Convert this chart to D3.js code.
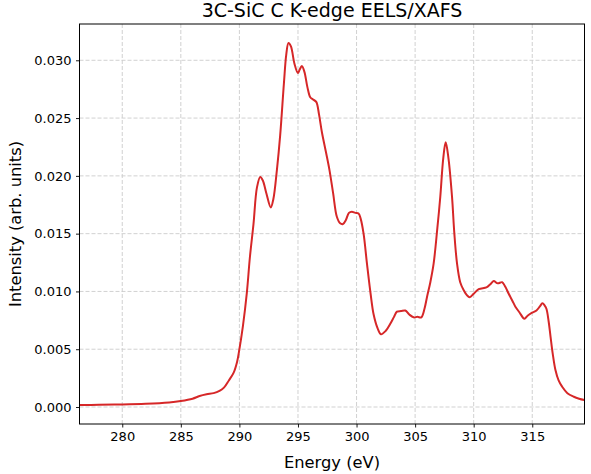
<!DOCTYPE html>
<html>
<head>
<meta charset="utf-8">
<script src="https://cdn.jsdelivr.net/npm/d3@7"></script>
<style>
  html, body { margin: 0; padding: 0; background: #fff; }
  svg text { font-family: "DejaVu Sans", sans-serif; fill: #000; }
</style>
</head>
<body>
<div id="chart"></div>
<script>
// === DATA ===
const energy = [
    276.3, 278, 280, 282, 284, 285, 286, 286.6, 287.2, 287.8,
    288.3, 288.7, 289.1, 289.5, 289.8, 290.0, 290.3, 290.63, 290.9, 291.2,
    291.5, 291.78, 292.0, 292.3, 292.68, 292.9, 293.2, 293.48, 293.8, 294.0,
    294.19, 294.4, 294.7, 294.99, 295.15, 295.33, 295.55, 295.8, 296.05, 296.3,
    296.56, 296.8, 297.04, 297.4, 297.69, 298.0, 298.32, 298.6, 298.84, 299.1,
    299.35, 299.6, 299.9, 300.17, 300.35, 300.6, 300.89, 301.2, 301.46, 301.8,
    302.08, 302.5, 302.88, 303.2, 303.45, 303.8, 304.16, 304.5, 304.87, 305.2,
    305.53, 305.8, 306.02, 306.3, 306.58, 306.9, 307.15, 307.4, 307.61, 307.85,
    308.15, 308.35, 308.58, 308.85, 309.15, 309.4, 309.66, 310.0, 310.43, 311.09,
    311.4, 311.71, 312.05, 312.43, 312.7, 312.99, 313.3, 313.56, 313.9, 314.33,
    314.6, 314.99, 315.36, 315.65, 315.87, 316.05, 316.21, 316.4, 316.56, 316.75,
    316.98, 317.25, 317.55, 318.0, 318.55, 319.0, 319.46
];
const intensity = [
    0.00017, 0.00019, 0.00022, 0.00028, 0.00040, 0.00052, 0.00072, 0.00095, 0.00110, 0.00120,
    0.00140, 0.00170, 0.00230, 0.00295, 0.00390, 0.00500, 0.00700, 0.00983, 0.0130, 0.0158,
    0.0190, 0.0199, 0.0196, 0.0185, 0.01727, 0.0180, 0.0205, 0.0235, 0.0280, 0.0305,
    0.0315, 0.0312, 0.0297, 0.0289, 0.0292, 0.0295, 0.0290, 0.0277, 0.0268, 0.0266,
    0.0264, 0.0253, 0.0238, 0.0220, 0.0205, 0.0185, 0.01646, 0.0159, 0.01583, 0.0162,
    0.0168, 0.0169, 0.0168, 0.01675, 0.0163, 0.0150, 0.0124, 0.0098, 0.0080, 0.0068,
    0.0063, 0.0066, 0.0072, 0.0078, 0.00825, 0.0083, 0.00835, 0.0080, 0.00776, 0.0078,
    0.00776, 0.0085, 0.00954, 0.0108, 0.0124, 0.0155, 0.0182, 0.0215, 0.0229, 0.0215,
    0.0182, 0.0150, 0.0124, 0.0108, 0.0101, 0.0097, 0.0095, 0.0098, 0.0102, 0.01035,
    0.0106, 0.0109, 0.0107, 0.0108, 0.0104, 0.0098, 0.0092, 0.00868, 0.0082, 0.00764,
    0.0079, 0.00816, 0.00835, 0.0087, 0.00897, 0.0088, 0.0085, 0.0074, 0.0061, 0.0046,
    0.0032, 0.0023, 0.00176, 0.0012, 0.00089, 0.00072, 0.0006
];
const xTicks = [280, 285, 290, 295, 300, 305, 310, 315];
const yTicks = [0.000, 0.005, 0.010, 0.015, 0.020, 0.025, 0.030];
const xDomain = [276.35, 319.46];
const yDomain = [-0.00147, 0.03314];

const titleText = "3C-SiC C K-edge EELS/XAFS";
const xLabel = "Energy (eV)";
const yLabel = "Intensity (arb. units)";

// === LAYOUT ===
const W = 591, H = 474;
const margin = { top: 24, right: 6.5, bottom: 50, left: 79.5 };
const iw = W - margin.left - margin.right;
const ih = H - margin.top - margin.bottom;

const svg = d3.select("#chart").append("svg")
    .attr("width", W)
    .attr("height", H);

const g = svg.append("g")
    .attr("transform", `translate(${margin.left},${margin.top})`);

const x = d3.scaleLinear().domain(xDomain).range([0, iw]);
const y = d3.scaleLinear().domain(yDomain).range([ih, 0]);

// grid
g.append("g").selectAll("line")
    .data(xTicks)
    .join("line")
    .attr("x1", d => x(d)).attr("x2", d => x(d))
    .attr("y1", 0).attr("y2", ih)
    .attr("stroke", "#cccccc")
    .attr("stroke-width", 0.9)
    .attr("stroke-dasharray", "4,2");

g.append("g").selectAll("line")
    .data(yTicks)
    .join("line")
    .attr("x1", 0).attr("x2", iw)
    .attr("y1", d => y(d)).attr("y2", d => y(d))
    .attr("stroke", "#cccccc")
    .attr("stroke-width", 0.9)
    .attr("stroke-dasharray", "4,2");

// curve
const pts = energy.map((e, i) => [e, intensity[i]]);
const line = d3.line()
    .x(d => x(d[0]))
    .y(d => y(d[1]))
    .curve(d3.curveCatmullRom.alpha(0.5));

g.append("defs").append("clipPath").attr("id", "clip")
    .append("rect").attr("width", iw).attr("height", ih);

g.append("path")
    .datum(pts)
    .attr("clip-path", "url(#clip)")
    .attr("fill", "none")
    .attr("stroke", "#d62728")
    .attr("stroke-width", 2)
    .attr("stroke-linejoin", "round")
    .attr("d", line);

// axes
const xAxis = g.append("g")
    .attr("transform", `translate(0,${ih})`)
    .call(d3.axisBottom(x).tickValues(xTicks).tickSize(3.5).tickPadding(4.5).tickFormat(d3.format("d")));

const yAxis = g.append("g")
    .call(d3.axisLeft(y).tickValues(yTicks).tickSize(3.5).tickPadding(4.5).tickFormat(d3.format(".3f")));

[xAxis, yAxis].forEach(a => {
    a.select(".domain").remove();
    a.selectAll(".tick line").attr("stroke", "#000").attr("stroke-width", 0.9);
    a.selectAll(".tick text").attr("font-size", "13px").attr("font-family", "DejaVu Sans");
});

// frame
g.append("rect")
    .attr("width", iw).attr("height", ih)
    .attr("fill", "none")
    .attr("stroke", "#000")
    .attr("stroke-width", 1);

// labels
svg.append("text")
    .attr("x", margin.left + iw / 2)
    .attr("y", 16.5)
    .attr("text-anchor", "middle")
    .attr("font-size", "19px")
    .text(titleText);

svg.append("text")
    .attr("x", margin.left + iw / 2)
    .attr("y", 468)
    .attr("text-anchor", "middle")
    .attr("font-size", "16.3px")
    .text(xLabel);

svg.append("text")
    .attr("transform", `translate(20.5,${margin.top + ih / 2}) rotate(-90)`)
    .attr("text-anchor", "middle")
    .attr("font-size", "16.3px")
    .text(yLabel);
</script>
</body>
</html>
